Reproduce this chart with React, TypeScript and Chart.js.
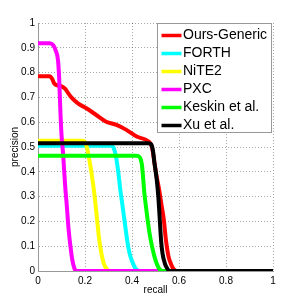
import React, { useEffect, useRef } from "react";
import { Chart, registerables } from "chart.js";

Chart.register(...registerables);

const seriesNames = ["Ours-Generic", "FORTH", "NiTE2", "PXC", "Keskin et al.", "Xu et al."];
const seriesColors = ["#ff0000", "#00ffff", "#ffff00", "#ff00ff", "#00ff00", "#000000"];

const oursRecall = [0, 0.05, 0.06, 0.07, 0.085, 0.1, 0.115, 0.13, 0.142, 0.17, 0.206, 0.248, 0.29, 0.334, 0.376, 0.42, 0.46, 0.478, 0.487, 0.495, 0.505, 0.515, 0.525, 0.535, 0.545, 0.555, 0.565, 0.575, 0.59, 1];
const oursPrecision = [0.785, 0.785, 0.775, 0.755, 0.748, 0.745, 0.735, 0.715, 0.7, 0.676, 0.656, 0.629, 0.602, 0.589, 0.569, 0.542, 0.528, 0.515, 0.49, 0.44, 0.38, 0.33, 0.27, 0.21, 0.12, 0.06, 0.03, 0.01, 0, 0];

const forthRecall = [0, 0.31, 0.32, 0.33, 0.34, 0.35, 0.36, 0.37, 0.38, 0.39, 0.4, 0.415, 0.43, 1];
const forthPrecision = [0.505, 0.505, 0.5, 0.47, 0.41, 0.33, 0.26, 0.19, 0.12, 0.07, 0.04, 0.01, 0, 0];

const niteRecall = [0, 0.19, 0.2, 0.21, 0.22, 0.23, 0.24, 0.25, 0.26, 0.27, 0.28, 0.295, 0.305, 1];
const nitePrecision = [0.525, 0.525, 0.52, 0.49, 0.44, 0.38, 0.31, 0.22, 0.13, 0.07, 0.03, 0.005, 0, 0];

const pxcRecall = [0, 0.05, 0.065, 0.075, 0.085, 0.09, 0.095, 0.1, 0.107, 0.115, 0.122, 0.13, 0.138, 0.146, 0.155, 0.163, 1];
const pxcPrecision = [0.918, 0.918, 0.91, 0.89, 0.85, 0.78, 0.65, 0.55, 0.47, 0.35, 0.27, 0.17, 0.1, 0.045, 0.01, 0, 0];

const keskinRecall = [0, 0.42, 0.435, 0.442, 0.447, 0.452, 0.458, 0.466, 0.475, 0.485, 0.495, 0.505, 0.515, 0.53, 1];
const keskinPrecision = [0.465, 0.465, 0.455, 0.43, 0.38, 0.32, 0.27, 0.21, 0.15, 0.1, 0.06, 0.03, 0.01, 0, 0];

const xuRecall = [0, 0.47, 0.482, 0.49, 0.495, 0.505, 0.512, 0.518, 0.524, 0.53, 0.54, 0.55, 0.56, 1];
const xuPrecision = [0.515, 0.515, 0.51, 0.48, 0.44, 0.37, 0.3, 0.21, 0.12, 0.07, 0.03, 0.01, 0, 0];

const allRecall = [oursRecall, forthRecall, niteRecall, pxcRecall, keskinRecall, xuRecall];
const allPrecision = [oursPrecision, forthPrecision, nitePrecision, pxcPrecision, keskinPrecision, xuPrecision];

const FONT = '"Liberation Sans", Arial, Helvetica, sans-serif';

const fmtTick = (v: any) => String(Math.round(Number(v) * 10) / 10);

const insideLegend = {
  id: "insideLegend",
  afterDatasetsDraw(chart: any) {
    const { ctx, chartArea } = chart;
    ctx.save();
    ctx.font = `14px ${FONT}`;
    const rowH = 18;
    const boxW = 115;
    const boxH = 110;
    const right = chartArea.right - 1;
    const left = right - boxW;
    const top = chartArea.top;
    ctx.fillStyle = "#ffffff";
    ctx.fillRect(left, top, boxW, boxH);
    ctx.strokeStyle = "#999999";
    ctx.lineWidth = 1;
    ctx.strokeRect(left + 0.5, top + 0.5, boxW - 1, boxH - 1);
    seriesNames.forEach((name, i) => {
      const cy = top + 12.5 + i * rowH;
      ctx.strokeStyle = seriesColors[i];
      ctx.lineWidth = 3.5;
      ctx.beginPath();
      ctx.moveTo(left + 4.5, cy);
      ctx.lineTo(left + 24.5, cy);
      ctx.stroke();
      ctx.fillStyle = "#000000";
      ctx.textBaseline = "middle";
      ctx.textAlign = "left";
      ctx.fillText(name, left + 26, cy);
    });
    ctx.restore();
  },
};

export default function App() {
  const ref = useRef<HTMLCanvasElement | null>(null);
  useEffect(() => {
    document.body.style.margin = "0";
    const canvas = ref.current;
    if (!canvas) return;
    const datasets = seriesNames.map((name, i) => ({
      label: name,
      data: allRecall[i].map((x, j) => ({ x, y: allPrecision[i][j] })),
      borderColor: seriesColors[i],
      backgroundColor: seriesColors[i],
      borderWidth: 4,
      pointRadius: 0,
      fill: false,
      showLine: true,
      cubicInterpolationMode: "monotone" as const,
      order: seriesNames.length - i,
    }));
    const chart = new Chart(canvas, {
      type: "scatter",
      data: { datasets },
      plugins: [insideLegend],
      options: {
        animation: false,
        responsive: false,
        layout: { padding: { top: 23, right: 26, left: 0, bottom: 0 } },
        plugins: { legend: { display: false }, tooltip: { enabled: false } },
        scales: {
          x: {
            type: "linear",
            min: 0,
            max: 1,
            afterFit: (s: any) => {
              s.height = 30;
            },
            ticks: { stepSize: 0.2, color: "#000", padding: 4, font: { size: 10, family: FONT }, callback: fmtTick },
            grid: { color: "rgba(0,0,0,0.35)", drawTicks: false, lineWidth: 1 },
            border: { display: true, color: "#999999", width: 1, dash: [1, 2] },
            title: { display: true, text: "recall", color: "#000", font: { size: 10, family: FONT }, padding: { top: 0, bottom: 5 } },
          },
          y: {
            type: "linear",
            min: 0,
            max: 1,
            afterFit: (s: any) => {
              s.width = 38;
            },
            ticks: { stepSize: 0.1, color: "#000", padding: 3, font: { size: 10, family: FONT }, callback: fmtTick },
            grid: { color: "rgba(0,0,0,0.35)", drawTicks: false, lineWidth: 1 },
            border: { display: true, color: "#999999", width: 1, dash: [1, 2] },
            title: { display: true, text: "precision", color: "#000", font: { size: 10, family: FONT }, padding: { top: 9, bottom: 0 } },
          },
        },
      },
    });
    return () => chart.destroy();
  }, []);
  return (
    <div style={{ width: 299, height: 301, background: "#fff" }}>
      <canvas ref={ref} width={299} height={301} />
    </div>
  );
}
